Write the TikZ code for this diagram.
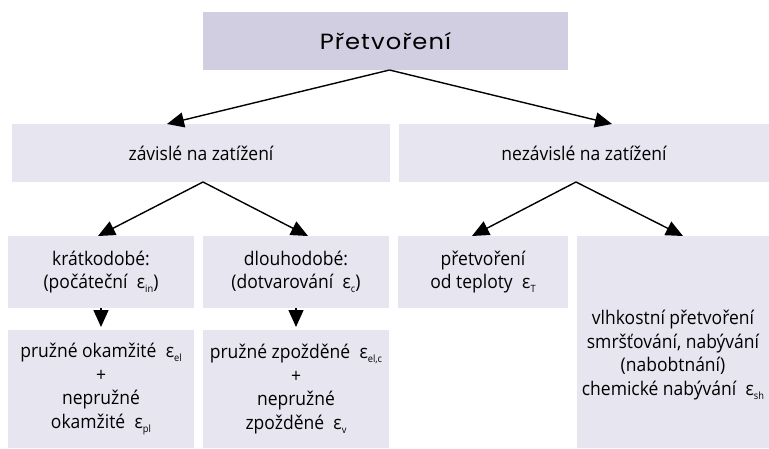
\documentclass[tikz,border=0pt]{standalone}
\usepackage{fontspec}
\usetikzlibrary{arrows.meta}
\setmainfont[FakeStretch=0.93]{Open Sans}
\newfontfamily\titlefont[FakeStretch=1.1,LetterSpace=5]{Poppins}
\newcommand\epsi[1]{\hspace{0.5em}ε\raisebox{-4pt}{\fontsize{10}{10}\selectfont #1}}
\definecolor{topfill}{HTML}{D0CEE0}
\definecolor{boxfill}{HTML}{E6E5F0}
\begin{document}
\begin{tikzpicture}[x=1pt,y=-1pt,
  box/.style={fill=boxfill,draw=none,inner sep=0pt,outer sep=0pt,align=center,
    font=\fontsize{18.8}{23.5}\selectfont},
  txt/.style={inner sep=0pt,outer sep=0pt,align=center,font=\fontsize{18.8}{23.5}\selectfont},
  arr/.style={draw=black,line width=1.4pt,-{Triangle[length=17pt,width=15pt]}}]
\useasboundingbox (0,0) rectangle (769,448);
\node[box,fill=topfill,minimum width=365pt,minimum height=58pt,font=\titlefont\fontsize{22}{24}\selectfont] (top) at (385.5,41) {Přetvoření};
\node[box,minimum width=378pt,minimum height=58pt] (zav) at (201,153) {závislé na zatížení};
\node[box,minimum width=370pt,minimum height=58pt] (nez) at (584,153) {nezávislé na zatížení};
\node[box,minimum width=186pt,minimum height=72pt] (kr) at (101,272) {krátkodobé:\\(počáteční\epsi{in})};
\node[box,minimum width=186pt,minimum height=72pt] (dl) at (296,272) {dlouhodobé:\\(dotvarování\epsi{c})};
\node[box,minimum width=170pt,minimum height=72pt] (tep) at (483,272) {přetvoření\\od teploty\epsi{T}};
\node[box,minimum width=192pt,minimum height=212pt] (vlh) at (673,342) {};
\node[txt] (vlhtxt) at (673,355) {vlhkostní přetvoření\\smršťování, nabývání\\(nabobtnání)\\chemické nabývání\epsi{sh}};
\node[box,minimum width=186pt,minimum height=118pt] (pr1) at (101,389) {pružné okamžité\epsi{el}\\+\\nepružné\\okamžité\epsi{pl}};
\node[box,minimum width=186pt,minimum height=118pt] (pr2) at (296,389) {pružné zpožděné\epsi{el,c}\\+\\nepružné\\zpožděné\epsi{v}};
\draw[arr] ([xshift=4pt]top.south) -- ([xshift=-34pt]zav.north);
\draw[arr] ([xshift=4pt]top.south) -- ([xshift=28pt]nez.north);
\draw[arr] ([xshift=2pt]zav.south) -- ([xshift=-3pt]kr.north);
\draw[arr] ([xshift=2pt]zav.south) -- ([xshift=12pt]dl.north);
\draw[arr] ([xshift=-8pt]nez.south) -- ([xshift=-11pt]tep.north);
\draw[arr] ([xshift=-8pt]nez.south) -- ([xshift=10pt]vlh.north);
\draw[arr] (kr.south) -- ([yshift=3pt]pr1.north);
\draw[arr] (dl.south) -- ([yshift=3pt]pr2.north);
\end{tikzpicture}
\end{document}
